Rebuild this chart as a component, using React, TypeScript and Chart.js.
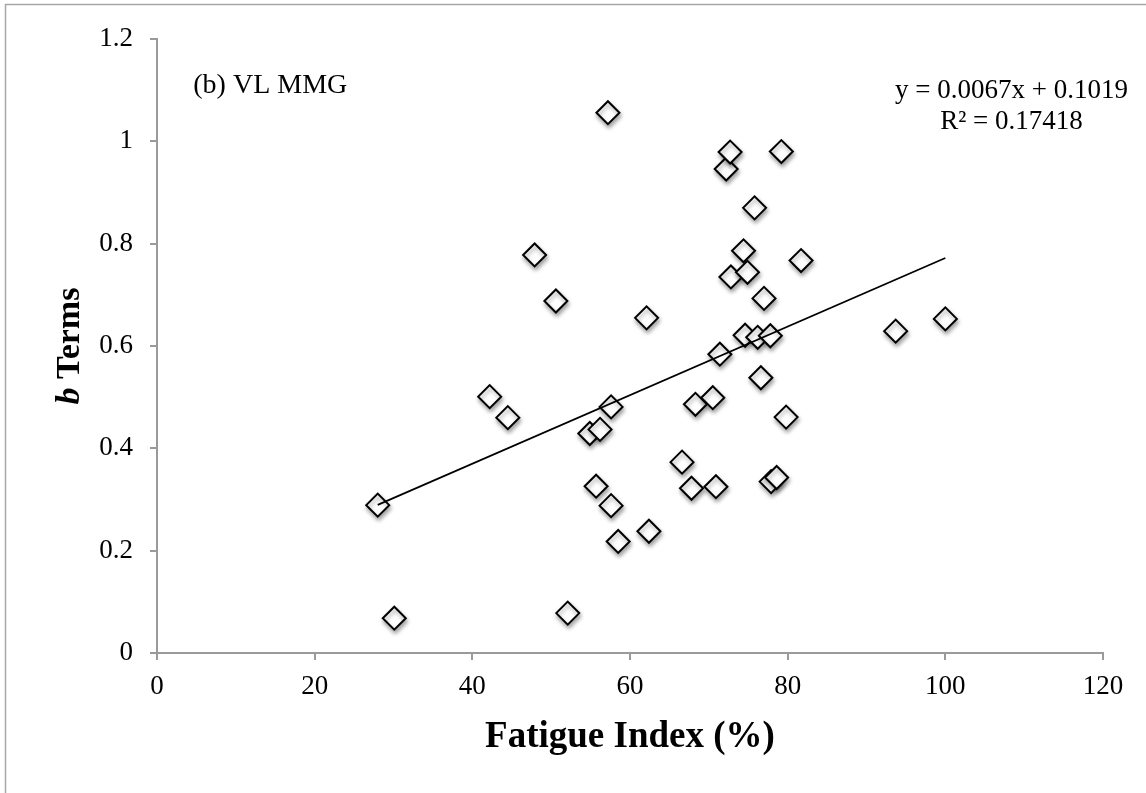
import React, { useEffect, useRef } from "react";
import { Chart, registerables } from "chart.js";

Chart.register(...registerables);

const fatigueIndex = [
  28.0, 30.1, 42.2, 44.5, 47.9, 50.6, 52.1, 54.9, 55.7, 56.2,
  57.2, 57.6, 57.6, 58.5, 62.1, 62.4, 66.6, 67.8, 68.3, 70.5,
  70.9, 71.4, 72.2, 72.7, 72.8, 74.4, 74.6, 74.9, 75.8, 76.2,
  76.6, 77.0, 77.8, 77.9, 78.6, 79.2, 79.8, 81.7, 93.7, 100.0,
];
const bTerms = [
  0.289, 0.068, 0.501, 0.460, 0.778, 0.688, 0.078, 0.429, 0.326, 0.437,
  1.056, 0.481, 0.288, 0.218, 0.655, 0.238, 0.373, 0.322, 0.486, 0.499,
  0.325, 0.584, 0.946, 0.979, 0.735, 0.786, 0.621, 0.744, 0.870, 0.617,
  0.538, 0.693, 0.620, 0.335, 0.343, 0.980, 0.461, 0.767, 0.629, 0.653,
];
const trendSlope = 0.0067;
const trendIntercept = 0.1019;
const rSquared = "0.17418";
const xTickLabels = ["0", "20", "40", "60", "80", "100", "120"];
const yTickLabels = ["0", "0.2", "0.4", "0.6", "0.8", "1", "1.2"];
const panelLabel = "(b) VL MMG";
const xTitle = "Fatigue Index (%)";
const yTitleItalic = "b";
const yTitleRest = " Terms";

const AXIS_GRAY = "#9a9a9a";
const SERIF = "'Liberation Serif', 'Times New Roman', serif";

const App: React.FC = () => {
  const canvasRef = useRef<HTMLCanvasElement | null>(null);

  useEffect(() => {
    const canvas = canvasRef.current;
    if (!canvas) return;

    const points = fatigueIndex.map((x, i) => ({ x, y: bTerms[i] }));
    const xMin = Math.min(...fatigueIndex);
    const xMax = Math.max(...fatigueIndex);
    const trend = [
      { x: xMin, y: trendSlope * xMin + trendIntercept },
      { x: xMax, y: trendSlope * xMax + trendIntercept },
    ];

    const framePlugin = {
      id: "frameAndText",
      beforeDraw(chart: any) {
        const ctx = chart.ctx;
        ctx.save();
        ctx.fillStyle = "#ffffff";
        ctx.fillRect(0, 0, chart.width, chart.height);
        ctx.strokeStyle = "#a6a6a6";
        ctx.lineWidth = 1.5;
        ctx.strokeRect(5.5, 4.5, chart.width + 50, chart.height + 50);
        ctx.restore();
      },
      beforeDatasetDraw(chart: any, args: any) {
        if (args.index === 1) {
          const ctx = chart.ctx;
          ctx.save();
          ctx.shadowColor = "rgba(0,0,0,0.35)";
          ctx.shadowBlur = 4;
          ctx.shadowOffsetX = 1;
          ctx.shadowOffsetY = 3;
        }
      },
      afterDatasetDraw(chart: any, args: any) {
        if (args.index === 1) {
          chart.ctx.restore();
        }
      },
      afterDraw(chart: any) {
        const ctx = chart.ctx;
        const xs = chart.scales.x;
        const ys = chart.scales.y;
        const area = chart.chartArea;
        ctx.save();
        ctx.fillStyle = "#000";
        ctx.font = `28px ${SERIF}`;
        ctx.textAlign = "left";
        ctx.textBaseline = "alphabetic";
        ctx.fillText(panelLabel, xs.getPixelForValue(4.6), ys.getPixelForValue(1.094));
        ctx.font = `27px ${SERIF}`;
        ctx.textAlign = "center";
        const cx = xs.getPixelForValue(108.4);
        ctx.fillText(
          `y = ${trendSlope}x + ${trendIntercept}`,
          cx,
          ys.getPixelForValue(1.085)
        );
        ctx.fillText(`R² = ${rSquared}`, cx, ys.getPixelForValue(1.024));

        // y axis title with italic "b"
        const fItal = `italic bold 34px ${SERIF}`;
        const fBold = `bold 34px ${SERIF}`;
        ctx.font = fItal;
        const w1 = ctx.measureText(yTitleItalic).width;
        ctx.font = fBold;
        const w2 = ctx.measureText(yTitleRest).width;
        const total = w1 + w2;
        const tx = 70;
        const ty = (area.top + area.bottom) / 2;
        ctx.translate(tx, ty);
        ctx.rotate(-Math.PI / 2);
        ctx.textAlign = "left";
        ctx.textBaseline = "middle";
        ctx.font = fItal;
        ctx.fillText(yTitleItalic, -total / 2, 0);
        ctx.font = fBold;
        ctx.fillText(yTitleRest, -total / 2 + w1, 0);
        ctx.restore();
      },
    };

    const chart = new Chart(canvas, {
      type: "scatter",
      data: {
        datasets: [
          {
            type: "line",
            label: "Trend",
            data: trend,
            borderColor: "#000",
            borderWidth: 1.7,
            pointRadius: 0,
            fill: false,
          } as any,
          {
            label: "b Terms",
            data: points,
            pointStyle: "rectRot",
            pointRadius: 11.5,
            pointHoverRadius: 11.5,
            borderWidth: 2,
            borderColor: "#000",
            backgroundColor: "#fff",
          },
        ],
      },
      options: {
        responsive: false,
        animation: false,
        layout: { padding: { top: 39, right: 43, left: 0, bottom: 0 } },
        plugins: {
          legend: { display: false },
          tooltip: { enabled: false },
        },
        scales: {
          x: {
            type: "linear",
            min: 0,
            max: 120,
            afterFit: (s: any) => {
              s.height = 140;
            },
            border: { display: true, color: AXIS_GRAY, width: 2 },
            grid: {
              drawOnChartArea: false,
              drawTicks: true,
              tickLength: 7,
              color: AXIS_GRAY,
              lineWidth: 2,
            },
            ticks: {
              stepSize: 20,
              padding: 11,
              color: "#000",
              font: { family: SERIF, size: 27 },
              maxRotation: 0,
              callback: (_v: any, i: number) => xTickLabels[i],
            },
            title: {
              display: true,
              text: xTitle,
              color: "#000",
              font: { family: SERIF, size: 37, weight: "bold" },
              padding: { top: 0, bottom: 33 },
            },
          },
          y: {
            type: "linear",
            min: 0,
            max: 1.2,
            afterFit: (s: any) => {
              s.width = 157;
            },
            border: { display: true, color: AXIS_GRAY, width: 2 },
            grid: {
              drawOnChartArea: false,
              drawTicks: true,
              tickLength: 7,
              color: AXIS_GRAY,
              lineWidth: 2,
            },
            ticks: {
              stepSize: 0.2,
              padding: 17,
              color: "#000",
              font: { family: SERIF, size: 27 },
              callback: (_v: any, i: number) => yTickLabels[i],
            },
            title: { display: false },
          },
        },
      },
      plugins: [framePlugin],
    });

    return () => {
      chart.destroy();
    };
  }, []);

  return (
    <div
      style={{
        position: "fixed",
        left: 0,
        top: 0,
        width: 1146,
        height: 793,
        background: "#fff",
      }}
    >
      <canvas ref={canvasRef} width={1146} height={793} />
    </div>
  );
};

export default App;
